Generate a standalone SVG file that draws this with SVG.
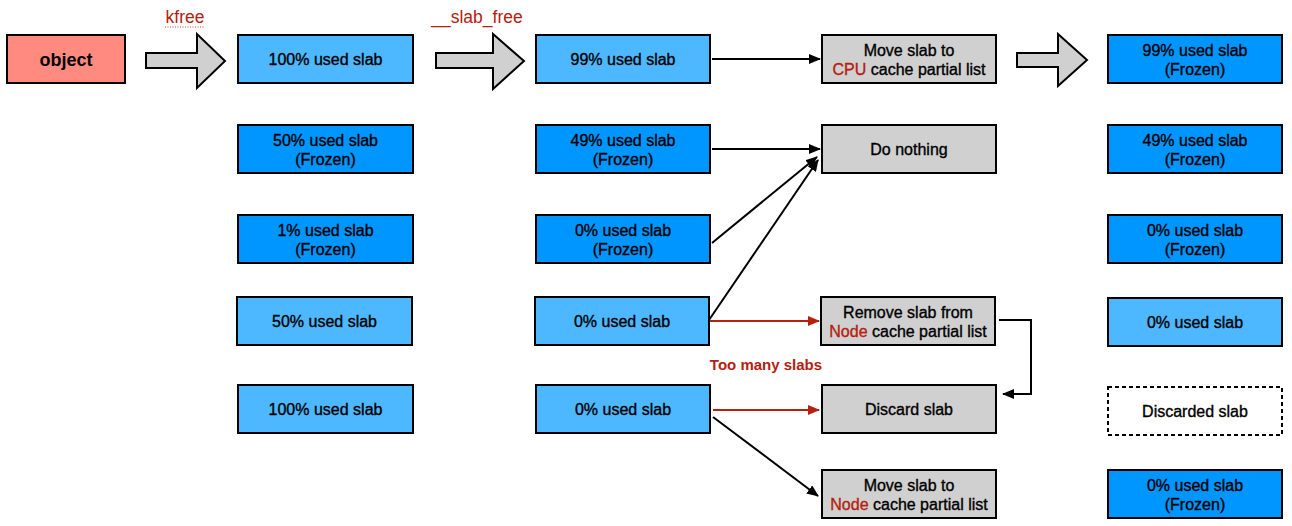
<svg xmlns="http://www.w3.org/2000/svg" width="1292" height="526" viewBox="0 0 1292 526">
<style>
text{font-family:"Liberation Sans",Arial,sans-serif;font-size:16px;fill:#000;stroke:#000;stroke-width:0.35;text-anchor:middle}
.box{stroke:#000;stroke-width:2}
.lb{fill:#4DB8FF}.db{fill:#0096FF}.gr{fill:#D0D0D0}.obj{fill:#FF8A80}
.red{fill:#B5200F;stroke:#B5200F}
.lbl{stroke-width:0}
.big{fill:#D0D0D0;stroke:#000;stroke-width:2;stroke-linejoin:miter}
.c{fill:none;stroke:#000;stroke-width:2}
.cr{fill:none;stroke:#B5200F;stroke-width:2}
</style>
<defs>
<marker id="ah" markerUnits="userSpaceOnUse" markerWidth="12" markerHeight="10" refX="11" refY="5" orient="auto"><path d="M0,0 L12,5 L0,10 Z" fill="#000"/></marker>
<marker id="ahr" markerUnits="userSpaceOnUse" markerWidth="12" markerHeight="10" refX="11" refY="5" orient="auto"><path d="M0,0 L12,5 L0,10 Z" fill="#B5200F"/></marker>
</defs>

<g id="object"><rect class="box obj" x="7" y="35" width="118" height="48"/><text x="66" y="65.5" style="font-size:18px;font-weight:bold;stroke-width:0">object</text></g>

<g id="bigarrow1"><path class="big" d="M146,53 L197,53 L197,34 L225,61 L197,88 L197,68 L146,68 Z"/></g>
<g id="bigarrow2"><path class="big" d="M436,53 L493,53 L493,34 L524,61 L493,89 L493,68 L436,68 Z"/></g>
<g id="bigarrow3"><path class="big" d="M1017,53 L1058,53 L1058,34 L1087,60 L1058,86 L1058,67 L1017,67 Z"/></g>

<g id="label-kfree"><text class="red lbl" x="185" y="23" style="font-size:17.5px">kfree</text><line x1="165" y1="27" x2="205" y2="27" stroke="#D04030" stroke-width="1" stroke-dasharray="1,1.5"/></g>
<g id="label-slab-free"><text class="red lbl" x="477" y="23" style="font-size:17.5px">__slab_free</text></g>

<!-- column 1 -->
<g id="c1r1"><rect class="box lb" x="238" y="35" width="175" height="48"/><text x="325.5" y="64.5">100% used slab</text></g>
<g id="c1r2"><rect class="box db" x="238" y="125" width="175" height="48"/><text x="325.5" y="145.5">50% used slab</text><text x="325.5" y="164.5">(Frozen)</text></g>
<g id="c1r3"><rect class="box db" x="238" y="215" width="175" height="48"/><text x="325.5" y="235.5">1% used slab</text><text x="325.5" y="254.5">(Frozen)</text></g>
<g id="c1r4"><rect class="box lb" x="237" y="297" width="175" height="48"/><text x="324.5" y="326.5">50% used slab</text></g>
<g id="c1r5"><rect class="box lb" x="238" y="385" width="175" height="48"/><text x="325.5" y="414.5">100% used slab</text></g>

<!-- column 2 -->
<g id="c2r1"><rect class="box lb" x="536" y="35" width="174" height="48"/><text x="623" y="64.5">99% used slab</text></g>
<g id="c2r2"><rect class="box db" x="536" y="125" width="174" height="48"/><text x="623" y="145.5">49% used slab</text><text x="623" y="164.5">(Frozen)</text></g>
<g id="c2r3"><rect class="box db" x="536" y="215" width="174" height="48"/><text x="623" y="235.5">0% used slab</text><text x="623" y="254.5">(Frozen)</text></g>
<g id="c2r4"><rect class="box lb" x="535" y="297" width="174" height="48"/><text x="622" y="326.5">0% used slab</text></g>
<g id="c2r5"><rect class="box lb" x="536" y="385" width="174" height="48"/><text x="623" y="414.5">0% used slab</text></g>

<!-- column 3 -->
<g id="move-cpu"><rect class="box gr" x="822" y="35" width="174" height="48"/><text x="909" y="55.5">Move slab to</text><text x="909" y="74.5"><tspan class="red">CPU</tspan> cache partial list</text></g>
<g id="do-nothing"><rect class="box gr" x="822" y="125" width="174" height="48"/><text x="909" y="154.5">Do nothing</text></g>
<g id="remove-node"><rect class="box gr" x="821" y="297" width="174" height="48"/><text x="908" y="317.5">Remove slab from</text><text x="908" y="336.5"><tspan class="red">Node</tspan> cache partial list</text></g>
<g id="discard"><rect class="box gr" x="822" y="385" width="174" height="48"/><text x="909" y="414.5">Discard slab</text></g>
<g id="move-node"><rect class="box gr" x="822" y="470" width="174" height="48"/><text x="909" y="490.5">Move slab to</text><text x="909" y="509.5"><tspan class="red">Node</tspan> cache partial list</text></g>

<!-- column 4 -->
<g id="c4r1"><rect class="box db" x="1108" y="35" width="174" height="48"/><text x="1195" y="55.5">99% used slab</text><text x="1195" y="74.5">(Frozen)</text></g>
<g id="c4r2"><rect class="box db" x="1108" y="125" width="174" height="48"/><text x="1195" y="145.5">49% used slab</text><text x="1195" y="164.5">(Frozen)</text></g>
<g id="c4r3"><rect class="box db" x="1108" y="215" width="174" height="48"/><text x="1195" y="235.5">0% used slab</text><text x="1195" y="254.5">(Frozen)</text></g>
<g id="c4r4"><rect class="box lb" x="1108" y="298" width="174" height="48"/><text x="1195" y="327.5">0% used slab</text></g>
<g id="c4r5"><rect x="1108" y="387" width="174" height="48" fill="#fff" stroke="#000" stroke-width="2" stroke-dasharray="4,3"/><text x="1195" y="416.5">Discarded slab</text></g>
<g id="c4r6"><rect class="box db" x="1108" y="470" width="174" height="48"/><text x="1195" y="490.5">0% used slab</text><text x="1195" y="509.5">(Frozen)</text></g>

<g id="label-too-many"><text class="red lbl" x="766" y="370" style="font-size:15px;font-weight:bold">Too many slabs</text></g>

<g id="connectors">
<line class="c" x1="712" y1="59" x2="820" y2="59" marker-end="url(#ah)"/>
<line class="c" x1="712" y1="149" x2="820" y2="149" marker-end="url(#ah)"/>
<line class="c" x1="712" y1="243" x2="817" y2="157" marker-end="url(#ah)"/>
<line class="c" x1="709" y1="320" x2="818" y2="160" marker-end="url(#ah)"/>
<line class="cr" x1="710" y1="321" x2="819" y2="321" marker-end="url(#ahr)"/>
<polyline class="c" points="999,320 1031,320 1031,394 1003,394" marker-end="url(#ah)"/>
<line class="cr" x1="713" y1="410" x2="819" y2="410" marker-end="url(#ahr)"/>
<line class="c" x1="713" y1="417" x2="818" y2="496" marker-end="url(#ah)"/>
</g>
</svg>
